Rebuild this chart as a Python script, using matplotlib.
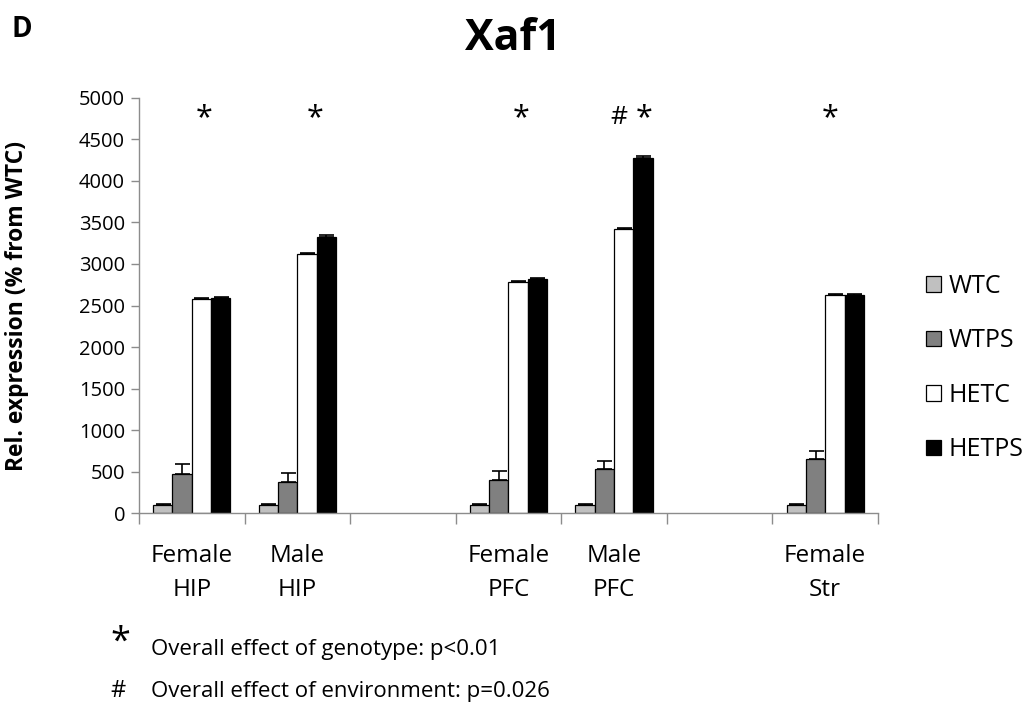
import numpy as np
import matplotlib
matplotlib.use("Agg")
import matplotlib.pyplot as plt
from matplotlib.patches import Patch

plt.rcParams["font.family"] = ["Open Sans", "DejaVu Sans"]

CATEGORIES = ["Female\nHIP", "Male\nHIP", "", "Female\nPFC", "Male\nPFC", "", "Female\nStr"]
GROUPS = ["WTC", "WTPS", "HETC", "HETPS"]
nan = np.nan
WTC = [100, 100, nan, 100, 100, nan, 100]
WTPS = [475, 370, nan, 393, 536, nan, 645]
HETC = [2580, 3120, nan, 2780, 3420, nan, 2630]
HETPS = [2590, 3330, nan, 2820, 4280, nan, 2630]
WTC_ERR = [12, 12, nan, 10, 10, nan, 10]
WTPS_ERR = [120, 118, nan, 108, 85, nan, 108]
HETC_ERR = [10, 12, nan, 10, 10, nan, 10]
HETPS_ERR = [15, 20, nan, 15, 20, nan, 12]
COLORS = ["#c0c0c0", "#808080", "#ffffff", "#000000"]

# significance marks: (category index, offset within category, symbol)
MARKS = [(0, 0.62, "*"), (1, 0.67, "*"), (3, 0.62, "*"),
         (4, 0.55, "#"), (4, 0.78, "*"), (6, 0.55, "*")]

values = [WTC, WTPS, HETC, HETPS]
errors = [WTC_ERR, WTPS_ERR, HETC_ERR, HETPS_ERR]

fig = plt.figure(figsize=(10.34, 7.08), dpi=100)
ax = fig.add_axes([0.1344, 0.2754, 0.7147, 0.5862])

x = np.arange(len(CATEGORIES)) + 0.5
w = 0.183
axis_gray = "#8c8c8c"
for i, (vals, errs, col) in enumerate(zip(values, errors, COLORS)):
    pos = x + (i - 1.5) * w
    vals = np.array(vals, dtype=float)
    errs = np.array(errs, dtype=float)
    ax.bar(pos, vals, width=w, color=col, edgecolor="black", linewidth=0.9,
           zorder=2)
    ax.errorbar(pos, vals, yerr=[np.zeros_like(errs), errs], fmt="none",
                ecolor="black", elinewidth=1.2, capsize=5.4, capthick=1.2,
                zorder=3)

ax.set_xlim(0, len(CATEGORIES))
ax.set_ylim(0, 5000)
ax.set_yticks(np.arange(0, 5001, 500))
ax.tick_params(axis="y", labelsize=14.5, length=6, color=axis_gray, width=1,
               pad=4)
ax.set_xticks(np.arange(len(CATEGORIES) + 1))
ax.set_xticklabels([])
ax.tick_params(axis="x", length=8, color=axis_gray, width=1)
ax.set_xticks(x, minor=True)
ax.set_xticklabels(CATEGORIES, minor=True, fontsize=17.5, linespacing=1.6)
ax.tick_params(axis="x", which="minor", length=0, pad=22)

for side in ["top", "right"]:
    ax.spines[side].set_visible(False)
for side in ["left", "bottom"]:
    ax.spines[side].set_color(axis_gray)
    ax.spines[side].set_linewidth(1)

ax.set_ylabel("Rel. expression (% from WTC)", fontsize=16.5, fontweight="bold",
              labelpad=36)

for cat, off, sym in MARKS:
    ax.text(cat + off, 4760, sym, ha="center", va="center",
            fontsize=22 if sym == "*" else 19, color="black")

handles = [Patch(facecolor=c, edgecolor="black", linewidth=0.9) for c in COLORS]
fig.legend(handles, GROUPS, loc="upper left", bbox_to_anchor=(0.874, 0.645),
           frameon=False, fontsize=18, handlelength=0.6, handleheight=0.6,
           handletextpad=0.3, labelspacing=1.18)

fig.text(0.496, 0.946, "Xaf1", ha="center", va="center", fontsize=31,
         fontweight="bold")
fig.text(0.021, 0.959, "D", ha="center", va="center", fontsize=20,
         fontweight="bold")

fig.text(0.116, 0.092, "*", ha="center", va="center", fontsize=26)
fig.text(0.146, 0.082, "Overall effect of genotype: p<0.01", ha="left",
         va="center", fontsize=16)
fig.text(0.114, 0.024, "#", ha="center", va="center", fontsize=17)
fig.text(0.146, 0.024, "Overall effect of environment: p=0.026", ha="left",
         va="center", fontsize=16)

fig.savefig("out.png", dpi=100)
